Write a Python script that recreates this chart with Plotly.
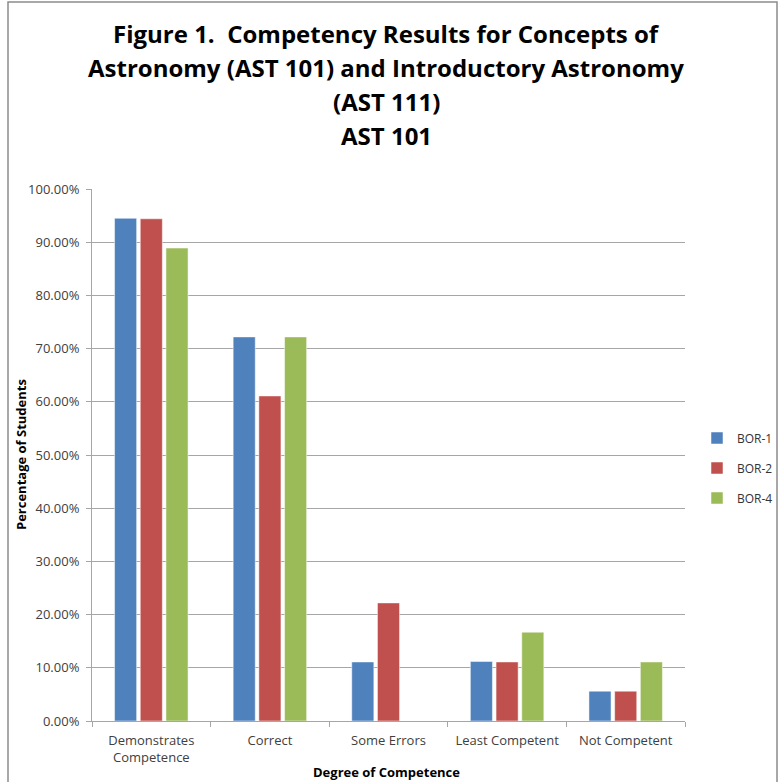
import plotly.graph_objects as go

# Competency results, AST 101 (share of students per level)
categories = ["Demonstrates<br>Competence", "Correct", "Some Errors", "Least Competent", "Not Competent"]
bor1 = [0.945, 0.722, 0.111, 0.112, 0.056]
bor2 = [0.944, 0.611, 0.222, 0.111, 0.056]
bor4 = [0.889, 0.722, 0.0, 0.167, 0.111]
series_names = ["BOR-1", "BOR-2", "BOR-4"]
series_colors = ["#4F81BD", "#C0504D", "#9BBB59"]
y_ticks = [i / 10 for i in range(11)]
title_lines = [
    "Figure 1.  Competency Results for Concepts of",
    "Astronomy (AST 101) and Introductory Astronomy",
    "(AST 111)",
    "AST 101",
]

W, H = 782, 782
ML, MR, MT, MB = 92, 97, 189, 61
PW, PH = W - ML - MR, H - MT - MB


def px_x(p):
    return (p - ML) / PW


def px_y(p):
    return (H - MB - p) / PH


FONT = "Open Sans"
fig = go.Figure()
for name, vals, col in zip(series_names, [bor1, bor2, bor4], series_colors):
    fig.add_trace(go.Bar(
        x=categories, y=vals, name=name, legendgroup=name,
        marker=dict(color=col, line=dict(color="rgba(255,255,255,0.5)", width=1)),
    ))

annotations = []
for i, line in enumerate(title_lines):
    annotations.append(dict(
        text="<b>" + line.replace("  ", "&nbsp; ") + "</b>", xref="paper", yref="paper",
        x=px_x(386), y=px_y(33 + i * 34.3), xanchor="center", yanchor="middle",
        showarrow=False, font=dict(family=FONT, size=24, color="#000000"),
    ))
annotations.append(dict(
    text="<b>Degree of Competence</b>", xref="paper", yref="paper",
    x=px_x(386), y=px_y(772), xanchor="center", yanchor="middle",
    showarrow=False, font=dict(family=FONT, size=13, color="#000000"),
))
annotations.append(dict(
    text="<b>Percentage of Students</b>", xref="paper", yref="paper",
    x=px_x(21), y=px_y(455), xanchor="center", yanchor="middle", textangle=-90,
    showarrow=False, font=dict(family=FONT, size=13, color="#000000"),
))

fig.update_layout(
    width=W, height=H,
    margin=dict(l=ML, r=MR, t=MT, b=MB, autoexpand=False),
    paper_bgcolor="white", plot_bgcolor="white",
    barmode="group", bargap=0.35, bargroupgap=0.14,
    showlegend=True,
    legend=dict(x=px_x(697), y=px_y(468), xanchor="left", yanchor="middle",
                font=dict(family=FONT, size=12, color="#333333"),
                tracegroupgap=11, bgcolor="rgba(0,0,0,0)"),
    annotations=annotations,
    shapes=[dict(type="rect", xref="paper", yref="paper",
                 x0=px_x(8), x1=px_x(777), y0=px_y(800), y1=px_y(2),
                 line=dict(color="#8c8c8c", width=1.5), layer="above")],
    font=dict(family=FONT),
)
fig.update_xaxes(
    type="category", showline=True, linecolor="#a6a6a6", linewidth=1,
    ticks="outside", tickson="boundaries", ticklen=5, tickcolor="#a6a6a6",
    ticklabelstandoff=7,
    tickfont=dict(family=FONT, size=13, color="#404040"),
    showgrid=False,
)
fig.update_yaxes(
    range=[0, 1], tickvals=y_ticks, tickformat=".2%",
    showline=True, linecolor="#a6a6a6", linewidth=1,
    ticks="outside", ticklen=5, tickcolor="#a6a6a6", ticklabelstandoff=4,
    showgrid=True, gridcolor="#a6a6a6", gridwidth=1, zeroline=False,
    tickfont=dict(family=FONT, size=13, color="#404040"),
)

fig.write_html("out.html")
